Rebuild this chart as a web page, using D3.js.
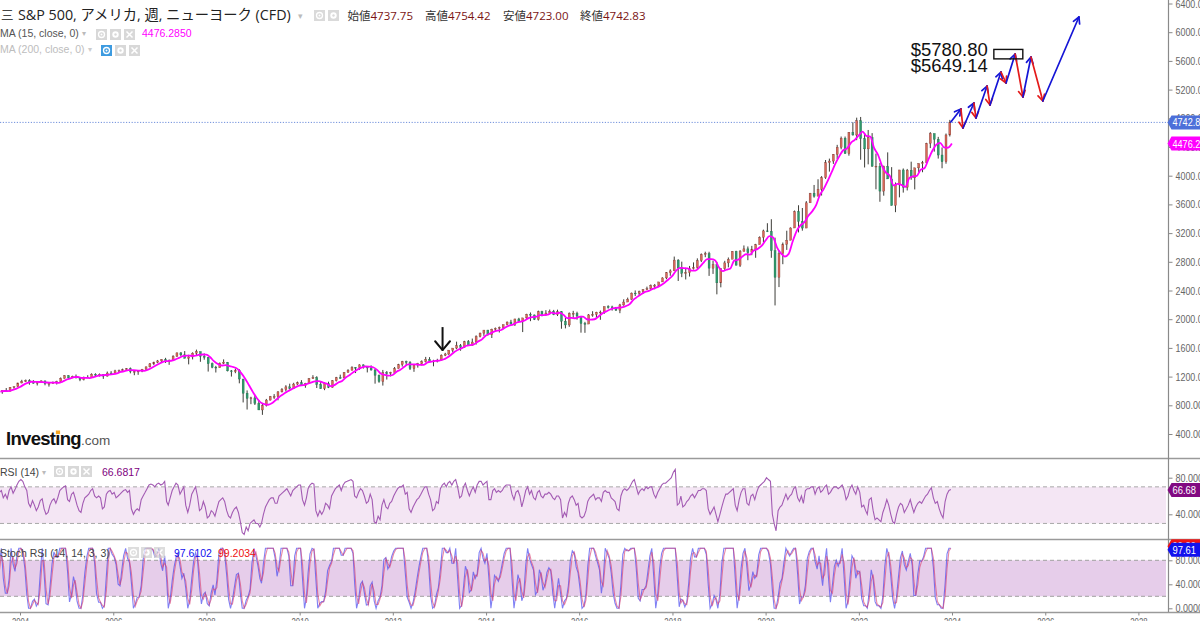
<!DOCTYPE html>
<html><head><meta charset="utf-8">
<script src="https://cdn.jsdelivr.net/npm/d3@7"></script>
<style>
html,body{margin:0;padding:0;background:#fff;overflow:hidden}
svg{display:block}
</style></head><body>
<svg id="chart" width="1200" height="621"></svg>
<script>
// ================= DATA =================
// Monthly S&P 500 candles from Jul 2003 to Dec 2023 (open = previous close)
const firstMonth = [2003, 6];
const firstOpen = 974.5;
const closes = [
 990.3,1008.0,996.0,1050.7,1058.2,1111.9,
 1131.1,1144.9,1126.2,1107.3,1120.7,1140.8,1101.7,1104.2,1114.6,1130.2,1173.8,1211.9,
 1181.3,1203.6,1180.6,1156.9,1191.5,1191.3,1234.2,1220.3,1228.8,1207.0,1249.5,1248.3,
 1280.1,1280.7,1294.9,1310.6,1270.1,1270.2,1276.7,1303.8,1335.9,1377.9,1400.6,1418.3,
 1438.2,1406.8,1420.9,1482.4,1530.6,1503.4,1455.3,1474.0,1526.8,1549.4,1481.1,1468.4,
 1378.6,1330.6,1322.7,1385.6,1400.4,1280.0,1267.4,1282.8,1166.4,968.8,896.2,903.3,
 825.9,735.1,797.9,872.8,919.1,919.3,987.5,1020.6,1057.1,1036.2,1095.6,1115.1,
 1073.9,1104.5,1169.4,1186.7,1089.4,1030.7,1101.6,1049.3,1141.2,1183.3,1180.6,1257.6,
 1286.1,1327.2,1325.8,1363.6,1345.2,1320.6,1292.3,1218.9,1131.4,1253.3,1247.0,1257.6,
 1312.4,1365.7,1408.5,1397.9,1310.3,1362.2,1379.3,1406.6,1440.7,1412.2,1416.2,1426.2,
 1498.1,1514.7,1569.2,1597.6,1630.7,1606.3,1685.7,1633.0,1681.6,1756.5,1805.8,1848.4,
 1782.6,1859.5,1872.3,1884.0,1923.6,1960.2,1930.7,2003.4,1972.3,2018.1,2067.6,2058.9,
 1995.0,2104.5,2067.9,2085.5,2107.4,2063.1,2103.8,1972.2,1920.0,2079.4,2080.4,2043.9,
 1940.2,1932.2,2059.7,2065.3,2097.0,2098.9,2173.6,2171.0,2168.3,2126.2,2199.0,2238.8,
 2278.9,2363.6,2362.7,2384.2,2411.8,2423.4,2470.3,2471.7,2519.4,2575.3,2647.6,2673.6,
 2823.8,2713.8,2640.9,2648.1,2705.3,2718.4,2816.3,2901.5,2914.0,2711.7,2760.2,2506.9,
 2704.1,2784.5,2834.4,2945.8,2752.1,2941.8,2980.4,2926.5,2976.7,3037.6,3141.0,3230.8,
 3225.5,2954.2,2584.6,2912.4,3044.3,3100.3,3271.1,3500.3,3363.0,3270.0,3621.6,3756.1,
 3714.2,3811.2,3972.9,4181.2,4204.1,4297.5,4395.3,4522.7,4307.5,4605.4,4567.0,4766.2,
 4515.6,4373.9,4530.4,4131.9,4132.2,3785.4,4130.3,3955.0,3585.6,3872.0,4080.1,3839.5,
 4076.6,3970.2,4109.3,4169.5,4179.8,4450.4,4589.0,4507.7,4288.1,4193.8,4567.8,4742.8
];
const highs = [
 1015.4,1011.0,1040.3,1053.8,1063.7,1112.6,
 1155.4,1159.0,1163.2,1150.6,1127.7,1146.3,1140.8,1109.7,1131.5,1142.1,1188.5,1217.9,
 1217.8,1212.4,1229.1,1191.9,1200.1,1219.6,1245.2,1245.9,1243.1,1233.3,1270.6,1275.8,
 1294.9,1297.6,1310.9,1318.2,1326.7,1290.7,1280.4,1306.7,1340.3,1389.5,1407.9,1431.8,
 1441.6,1461.6,1438.9,1498.0,1535.6,1540.6,1555.9,1503.9,1538.7,1576.1,1545.8,1523.6,
 1471.8,1396.0,1350.0,1397.0,1440.2,1404.1,1292.2,1313.2,1303.0,1167.0,1007.5,918.9,
 943.9,875.0,833.0,888.7,930.2,956.2,996.7,1039.5,1080.2,1101.4,1113.7,1130.4,
 1150.5,1112.4,1180.7,1219.8,1205.1,1131.2,1121.0,1129.2,1150.0,1196.1,1227.1,1262.6,
 1302.7,1344.1,1332.3,1370.6,1370.6,1345.2,1356.5,1307.4,1229.3,1292.7,1277.6,1267.1,
 1333.5,1378.0,1419.2,1422.4,1415.3,1363.5,1391.7,1426.7,1474.5,1471.0,1434.3,1448.0,
 1509.9,1530.9,1570.3,1597.6,1687.2,1654.2,1698.8,1709.7,1730.0,1775.2,1813.6,1849.4,
 1850.8,1867.9,1884.0,1897.3,1924.0,1968.2,1991.4,2005.0,2019.3,2018.2,2075.8,2093.6,
 2064.4,2119.6,2117.5,2125.9,2134.7,2129.9,2132.8,2112.7,2020.9,2094.3,2116.5,2104.3,
 2038.2,1963.0,2072.2,2111.1,2103.5,2120.6,2177.1,2193.8,2187.9,2169.6,2214.1,2277.5,
 2301.0,2371.5,2401.0,2398.2,2418.7,2453.8,2484.0,2490.9,2519.4,2583.0,2657.7,2695.0,
 2872.9,2836.0,2801.9,2717.5,2742.2,2791.5,2848.0,2916.5,2940.9,2939.9,2815.2,2800.2,
 2709.0,2813.5,2860.3,2949.5,2954.1,2964.2,3028.0,3013.6,3022.0,3050.1,3154.3,3247.9,
 3337.8,3393.5,3136.7,2954.9,3068.7,3233.1,3280.0,3514.8,3588.1,3549.9,3646.0,3760.2,
 3870.9,3950.4,3994.4,4218.8,4238.0,4302.4,4430.0,4545.9,4545.8,4608.1,4743.8,4808.9,
 4818.6,4595.3,4637.3,4593.5,4307.7,4177.5,4140.2,4325.3,4119.3,3905.4,4080.1,4101.0,
 4094.2,4195.4,4110.8,4170.1,4206.2,4458.5,4607.1,4584.4,4541.3,4393.6,4587.6,4778.0
];
const lows = [
 962.1,960.8,990.4,995.9,1031.2,1053.4,
 1105.1,1124.4,1087.2,1101.5,1076.3,1113.3,1078.8,1060.7,1101.3,1090.2,1127.6,1173.4,
 1163.8,1180.9,1176.8,1136.2,1146.2,1188.3,1183.6,1201.1,1201.1,1168.2,1201.1,1246.4,
 1245.7,1253.6,1268.4,1280.7,1245.3,1219.3,1224.5,1261.3,1290.9,1327.1,1361.0,1385.9,
 1404.0,1389.4,1364.0,1416.4,1476.7,1484.2,1454.3,1370.6,1439.3,1489.6,1406.1,1435.7,
 1270.1,1316.8,1257.0,1324.4,1373.1,1272.0,1200.4,1247.5,1106.4,839.8,741.0,815.7,
 804.3,734.5,666.8,783.3,866.1,888.9,869.3,978.5,992.3,1020.0,1029.4,1085.9,
 1071.6,1044.5,1105.2,1170.7,1040.8,1028.3,1010.9,1039.7,1047.1,1131.9,1173.0,1180.9,
 1257.6,1289.1,1249.1,1294.7,1311.8,1258.1,1282.9,1101.5,1114.2,1074.8,1158.7,1202.4,
 1258.9,1312.4,1340.0,1357.4,1292.0,1266.7,1325.4,1354.7,1396.6,1403.3,1343.4,1398.1,
 1426.2,1485.0,1501.5,1536.0,1581.3,1560.3,1604.6,1627.5,1633.4,1646.5,1746.2,1768.0,
 1770.5,1737.9,1834.4,1814.4,1859.8,1916.0,1930.7,1904.8,1964.0,1820.7,2001.0,1972.6,
 1988.1,1980.9,2039.7,2048.4,2067.9,2056.3,2044.0,1867.0,1871.9,1893.7,2019.4,1993.3,
 1812.3,1810.1,1937.1,2033.8,2025.9,1991.7,2074.0,2147.6,2119.1,2114.7,2083.8,2187.4,
 2245.1,2271.7,2322.3,2329.0,2352.7,2405.7,2407.7,2417.4,2446.6,2520.4,2557.5,2605.5,
 2682.4,2532.7,2585.9,2553.8,2594.6,2692.0,2699.0,2796.3,2864.1,2603.5,2631.1,2346.6,
 2444.0,2681.8,2722.3,2848.6,2750.5,2728.8,2952.2,2822.1,2891.9,2856.0,3050.7,3070.3,
 3214.6,2855.8,2191.9,2447.5,2766.6,2965.7,3101.2,3284.5,3209.5,3233.9,3279.7,3633.4,
 3694.1,3725.6,3723.3,3955.3,4056.9,4164.4,4233.1,4367.7,4305.9,4278.9,4560.0,4495.1,
 4222.6,4114.7,4157.9,4124.3,3810.3,3636.9,3721.6,3954.5,3584.1,3491.6,3698.2,3764.5,
 3794.3,3943.1,3808.9,4049.4,4048.3,4166.2,4385.1,4335.3,4238.6,4103.8,4167.2,4546.5
];
const maWindow = 4; // months ~ 15 weeks

// RSI(14), two readings per month from Jul 2003
const rsi14 = [
 60,64,66,58,62,57,66,70,63,67,72,76,
 78,76,70,66,52,48,55,50,44,48,55,57,46,40,42,50,55,57,52,58,66,68,70,71,
 56,54,62,64,58,50,44,42,52,58,60,62,66,68,60,58,60,58,46,48,62,65,66,62,
 64,58,60,62,64,66,67,64,66,46,40,44,46,44,56,60,64,68,72,73,72,70,73,74,
 72,73,76,54,50,58,66,70,74,72,62,66,70,50,42,50,62,66,70,60,44,46,54,48,
 36,38,44,42,38,46,54,56,58,54,44,38,36,42,46,48,42,32,20,18,26,22,30,32,
 34,30,30,26,30,40,48,52,56,58,58,52,52,60,62,64,66,68,64,60,66,68,70,72,
 72,56,50,58,68,72,74,73,44,38,44,40,44,52,50,46,60,64,68,70,72,66,72,75,
 76,77,78,76,60,58,64,68,66,60,52,54,62,56,32,30,38,34,50,56,48,46,52,54,
 60,64,68,70,70,72,62,64,46,42,48,52,56,58,62,66,70,70,62,56,44,46,54,52,
 68,72,74,70,74,76,72,76,78,70,58,60,70,74,66,60,66,70,64,72,76,76,72,74,
 76,56,56,66,68,64,66,64,66,70,72,72,72,62,56,64,66,60,48,56,66,70,62,66,
 58,56,64,66,60,58,62,62,64,62,58,56,60,60,56,36,42,38,52,58,60,56,50,52,
 38,36,38,44,54,58,60,62,56,58,58,54,64,66,64,64,58,56,54,46,44,60,66,68,
 66,68,72,76,78,70,62,66,68,66,70,68,70,70,62,58,64,68,72,74,74,76,78,80,
 86,89,50,52,60,48,50,54,56,60,62,58,62,66,66,68,68,66,46,40,44,48,40,32,
 40,48,56,62,62,64,66,68,50,44,56,64,68,68,52,50,60,62,56,64,70,72,74,76,
 80,78,76,40,30,22,44,48,50,56,62,56,60,62,68,70,58,54,60,52,66,68,68,70,
 70,62,68,70,64,66,70,72,62,64,68,70,70,68,70,72,66,56,60,68,72,66,62,70,
 64,48,50,44,40,56,58,44,34,36,34,32,42,48,56,50,40,32,30,40,48,52,50,42,
 46,50,56,48,42,48,52,54,52,56,60,62,66,69,58,52,54,46,40,36,54,62,66,67
];
const stochLookback = 7, stochKSmooth = 2, stochDSmooth = 2; // 14/3/3 weeks in half-month steps

const priceTicks = [400,800,1200,1600,2000,2400,2800,3200,3600,4000,4400,4800,5200,5600,6000,6400];
const rsiTicks = [40,80];
const stochTicks = [0,40,80];
const yearTicks = [2004,2006,2008,2010,2012,2014,2016,2018,2020,2022,2024,2026,2028];
const rsiBand = [30,70];
const stochBand = [20,80];

const titleText = "S&P 500, アメリカ, 週, ニューヨーク (CFD)";
const ohlcLabels = ["始値","高値","安値","終値"];
const ohlcValues = ["4737.75","4754.42","4723.00","4742.83"];
const lastClose = 4742.83;
const maLast = 4476.2850;
const rsiLast = 66.6817;
const kLast = 97.6102, dLast = 99.2034;

// hand-drawn annotations (date, price)
const targetPrices = [5780.80, 5649.14];
const targetBoxDates = ["2024-11-24","2025-07-09"];
const forecastPath = [
 ["2023-12-23",4748],["2024-03-11",4930],["2024-03-27",4665],["2024-06-21",5013],
 ["2024-07-07",4804],["2024-10-02",5250],["2024-10-25",4985],["2025-01-19",5445],
 ["2025-02-28",5292],["2025-05-10",5696],["2025-07-10",5097],["2025-09-11",5654],
 ["2025-12-13",5041],["2026-09-22",6212]
];
const markerArrow = {date:"2013-01-25", from:1890, to:1570};

// ================= CHART =================
const svg = d3.select("#chart");
const W = 1200, axisX = 1168.5;
const UI = "'Open Sans','Noto Sans CJK JP',sans-serif";
const AX = "'Liberation Sans',Arial,sans-serif";
const parse = d3.timeParse("%Y-%m-%d");
const narrow = 4.6; // px per character of the condensed axis font

const x = d3.scaleTime().domain([new Date(2004,0,1), new Date(2028,0,1)]).range([20, 1138.4]);
const yP = d3.scaleLinear().domain([400,6400]).range([434,3.5]);
const yR = d3.scaleLinear().domain([40,80]).range([514.3,477.7]);
const yS = d3.scaleLinear().domain([0,80]).range([608.3,560.3]);

const defs = svg.append("defs");
function clip(id, y0, h){ defs.append("clipPath").attr("id",id).append("rect").attr("x",0).attr("y",y0).attr("width",axisX).attr("height",h); }
clip("cMain",0,457); clip("cRsi",459.5,79); clip("cSto",540.5,71.5);

// ---------- main panel ----------
const months = closes.map((c,i)=>({
  date:new Date(firstMonth[0], firstMonth[1]+i, 15),
  end:new Date(firstMonth[0], firstMonth[1]+i+1, 0),
  o: i ? closes[i-1] : firstOpen, h: highs[i], l: lows[i], c
}));
months.forEach((d,i)=>{ d.ma = d3.mean(closes.slice(Math.max(0,i-maWindow+1), i+1)); });

const main = svg.append("g").attr("clip-path","url(#cMain)");
main.append("line").attr("x1",0).attr("x2",axisX).attr("y1",yP(lastClose)).attr("y2",yP(lastClose))
  .attr("stroke","#6f8fdc").attr("stroke-width",1).attr("stroke-dasharray","1.2,1.6");

const step = x(new Date(2004,1,15)) - x(new Date(2004,0,15));
const bw = step*0.5;
const cg = main.append("g");
cg.selectAll("line.w").data(months).join("line").attr("class","w")
  .attr("x1",d=>x(d.date)).attr("x2",d=>x(d.date))
  .attr("y1",d=>yP(d.h)).attr("y2",d=>yP(d.l))
  .attr("stroke","#3d3d38").attr("stroke-width",1);
cg.selectAll("rect.b").data(months).join("rect").attr("class","b")
  .attr("x",d=>x(d.date)-bw/2).attr("width",bw)
  .attr("y",d=>yP(Math.max(d.o,d.c)))
  .attr("height",d=>Math.max(0.8, Math.abs(yP(d.o)-yP(d.c))))
  .attr("fill",d=>d.c>=d.o ? "#d9685a" : "#2f9a6c")
  .attr("stroke",d=>d.c>=d.o ? "#7a3a30" : "#1f6b4a").attr("stroke-width",0.35);

main.append("path").datum(months)
  .attr("d", d3.line().x(d=>x(d.end)).y(d=>yP(d.ma)).curve(d3.curveMonotoneX))
  .attr("fill","none").attr("stroke","#ff00ff").attr("stroke-width",1.8);

// ---------- annotations ----------
const ann = svg.append("g");
function arrowHead(g, x1,y1,x2,y2,color,len,ang,w){
  const a = Math.atan2(y2-y1, x2-x1);
  [ang,-ang].forEach(s=>{
    g.append("line").attr("x1",x2).attr("y1",y2)
      .attr("x2",x2-len*Math.cos(a+s)).attr("y2",y2-len*Math.sin(a+s))
      .attr("stroke",color).attr("stroke-width",w).attr("stroke-linecap","round");
  });
}
const fp = forecastPath.map(d=>({x:x(parse(d[0])), y:yP(d[1]), v:d[1]}));
for(let i=0;i<fp.length-1;i++){
  const p0=fp[i], p1=fp[i+1];
  const col = p1.v>p0.v ? "#1515d6" : "#e41a1a";
  ann.append("line").attr("x1",p0.x).attr("y1",p0.y).attr("x2",p1.x).attr("y2",p1.y)
    .attr("stroke",col).attr("stroke-width",1.7).attr("stroke-linecap","round");
  arrowHead(ann,p0.x,p0.y,p1.x,p1.y,col,7,0.5,1.7);
}
const bx0 = x(parse(targetBoxDates[0])), bx1 = x(parse(targetBoxDates[1]));
ann.append("rect").attr("x",bx0).attr("y",yP(targetPrices[0])+1.5)
  .attr("width",bx1-bx0).attr("height",yP(targetPrices[1])-yP(targetPrices[0]))
  .attr("fill","none").attr("stroke","#111").attr("stroke-width",1.4);
ann.append("text").attr("x",bx0-6).attr("y",yP(targetPrices[0])+8).attr("text-anchor","end")
  .attr("font-family",AX).attr("font-size",18.5).attr("fill","#111").text("$"+targetPrices[0].toFixed(2));
ann.append("text").attr("x",bx0-6).attr("y",yP(targetPrices[1])+14.5).attr("text-anchor","end")
  .attr("font-family",AX).attr("font-size",18.5).attr("fill","#111").text("$"+targetPrices[1].toFixed(2));
{
  const mx = x(parse(markerArrow.date)), my0 = yP(markerArrow.from), my1 = yP(markerArrow.to);
  ann.append("line").attr("x1",mx).attr("x2",mx).attr("y1",my0).attr("y2",my1)
    .attr("stroke","#111").attr("stroke-width",2);
  arrowHead(ann,mx,my0,mx,my1,"#111",11.5,0.7,2);
}

// ---------- RSI panel ----------
const halfDate = i => new Date(firstMonth[0], firstMonth[1]+Math.floor(i/2), i%2 ? 23 : 8);
const rsiG = svg.append("g").attr("clip-path","url(#cRsi)");
rsiG.append("rect").attr("x",0).attr("width",1166).attr("y",yR(rsiBand[1])).attr("height",yR(rsiBand[0])-yR(rsiBand[1]))
  .attr("fill","#f4e6f4");
rsiBand.forEach(v=>rsiG.append("line").attr("x1",0).attr("x2",1166).attr("y1",yR(v)).attr("y2",yR(v))
  .attr("stroke","#a8a8a8").attr("stroke-width",1).attr("stroke-dasharray","4,3"));
rsiG.append("path").datum(rsi14)
  .attr("d", d3.line().x((d,i)=>x(halfDate(i))).y(d=>yR(d)))
  .attr("fill","none").attr("stroke","#a35bb3").attr("stroke-width",1.1);

// ---------- Stoch RSI panel ----------
const rawStoch = rsi14.map((v,i)=>{
  const w = rsi14.slice(Math.max(0,i-stochLookback+1), i+1);
  const mn = d3.min(w), mx = d3.max(w);
  return mx===mn ? 50 : (v-mn)/(mx-mn)*100;
});
const sma = (a,n)=>a.map((v,i)=>d3.mean(a.slice(Math.max(0,i-n+1), i+1)));
const kLine = sma(rawStoch, stochKSmooth);
const dLine = sma(kLine, stochDSmooth);
const stG = svg.append("g").attr("clip-path","url(#cSto)");
stG.append("rect").attr("x",0).attr("width",1166).attr("y",yS(stochBand[1])).attr("height",yS(stochBand[0])-yS(stochBand[1]))
  .attr("fill","#e6cdea");
stochBand.forEach(v=>stG.append("line").attr("x1",0).attr("x2",1166).attr("y1",yS(v)).attr("y2",yS(v))
  .attr("stroke","#a0a0a0").attr("stroke-width",1).attr("stroke-dasharray","4,3"));
const sLine = d3.line().x((d,i)=>x(halfDate(i))).y(d=>yS(d));
stG.append("path").datum(kLine).attr("d",sLine).attr("fill","none").attr("stroke","#4a4af0").attr("stroke-width",1.1).attr("opacity",0.7);
stG.append("path").datum(dLine).attr("d",sLine).attr("fill","none").attr("stroke","#d8386a").attr("stroke-width",1.1).attr("opacity",0.6);

// ---------- separators & axes ----------
[458.5, 539.5, 612.5].forEach(y=>svg.append("line").attr("x1",0).attr("x2",W).attr("y1",y).attr("y2",y)
  .attr("stroke","#9a9a9a").attr("stroke-width",1.6));
svg.append("line").attr("x1",axisX).attr("x2",axisX).attr("y1",0).attr("y2",612).attr("stroke","#8a8a8a").attr("stroke-width",1.2);

function styleAxis(g, perChar){
  g.select(".domain").remove();
  g.selectAll(".tick line").attr("stroke","#888");
  g.selectAll(".tick text").attr("fill","#666").attr("font-family",AX).attr("font-size",11)
    .attr("textLength",function(){ return this.textContent.length*(perChar||narrow); })
    .attr("lengthAdjust","spacingAndGlyphs");
}
svg.append("g").attr("transform",`translate(${axisX},0)`)
  .call(d3.axisRight(yP).tickValues(priceTicks).tickFormat(d3.format(".2f")).tickSize(4).tickPadding(3)).call(styleAxis);
svg.append("g").attr("transform",`translate(${axisX},0)`)
  .call(d3.axisRight(yR).tickValues(rsiTicks).tickFormat(d3.format(".3f")).tickSize(4).tickPadding(3)).call(styleAxis);
svg.append("g").attr("transform",`translate(${axisX},0)`)
  .call(d3.axisRight(yS).tickValues(stochTicks).tickFormat(d3.format(".4f")).tickSize(4).tickPadding(3)).call(styleAxis);
svg.append("g").attr("transform","translate(0,612.5)")
  .call(d3.axisBottom(x).tickValues(yearTicks.map(y=>new Date(y,0,1))).tickFormat(d3.timeFormat("%Y")).tickSize(3).tickPadding(3))
  .call(g=>styleAxis(g,4.3));

// ---------- value boxes on the axis ----------
function valBox(y, t, color){
  const g = svg.append("g");
  g.append("path").attr("d",`M${axisX-1},${y} L${axisX+3},${y-7} L${W},${y-7} L${W},${y+7} L${axisX+3},${y+7} Z`).attr("fill",color);
  g.append("text").attr("x",axisX+4).attr("y",y+4).attr("fill","#fff").attr("font-family",AX).attr("font-size",11.5)
    .attr("textLength",t.length*4.7).attr("lengthAdjust","spacingAndGlyphs").text(t);
}
valBox(yP(lastClose), lastClose.toFixed(2), "#4c6fd9");
valBox(yP(maLast)+2, maLast.toFixed(2), "#ff00ff");
valBox(yR(rsiLast), rsiLast.toFixed(2), "#820a82");
valBox(yS(dLast)-2.5, dLast.toFixed(2), "#f01414");
valBox(yS(kLast), kLast.toFixed(2), "#1212ee");

// ---------- legends / header ----------
function icon(x0,y0,kind,fill,op){
  const g = svg.append("g").attr("opacity",op||1);
  g.append("rect").attr("x",x0).attr("y",y0).attr("width",11).attr("height",11).attr("fill",fill);
  const cx=x0+5.5, cy=y0+5.5;
  if(kind==="eye"){ g.append("circle").attr("cx",cx).attr("cy",cy).attr("r",3).attr("fill","none").attr("stroke","#fff").attr("stroke-width",1.3);
    g.append("circle").attr("cx",cx).attr("cy",cy).attr("r",1).attr("fill","#fff"); }
  if(kind==="gear"){ g.append("circle").attr("cx",cx).attr("cy",cy).attr("r",3.2).attr("fill","#fff");
    g.append("circle").attr("cx",cx).attr("cy",cy).attr("r",1.2).attr("fill",fill); }
  if(kind==="x"){ g.append("path").attr("d",`M${cx-3},${cy-3}L${cx+3},${cy+3}M${cx+3},${cy-3}L${cx-3},${cy+3}`).attr("stroke","#fff").attr("stroke-width",1.5); }
}
function txt(x0,y0,s,size,fill,fam,anchor){
  return svg.append("text").attr("x",x0).attr("y",y0).attr("font-family",fam||UI).attr("font-size",size).attr("fill",fill).attr("text-anchor",anchor||"start").text(s);
}
txt(1,19.5,"三",12.5,"#444","'Noto Sans CJK JP',sans-serif");
txt(18,20,titleText,14.3,"#222");
txt(298,19,"▾",9,"#bbb",AX);
icon(314,10,"eye","#dadada"); icon(328,10,"gear","#dadada");
const ohlcX = [347.5,425,503,580];
ohlcLabels.forEach((l,i)=>{
  const t = svg.append("text").attr("x",ohlcX[i]).attr("y",20).attr("font-family",UI).attr("font-size",11.5);
  t.append("tspan").attr("fill","#333").text(l);
  t.append("tspan").attr("fill","#7a1414").text(ohlcValues[i]);
});
txt(0,37,"MA (15, close, 0)",10.5,"#555",AX);
txt(82,36,"▾",8,"#bbb",AX);
icon(96,29,"eye","#d8d8d8"); icon(110,29,"gear","#d8d8d8"); icon(124,29,"x","#d8d8d8");
txt(142,37,maLast.toFixed(4),10.5,"#ff00ff",AX);
txt(0,53,"MA (200, close, 0)",10.5,"#bdbdbd",AX);
txt(88,52,"▾",8,"#ccc",AX);
icon(101,45,"eye","#3d9be0"); icon(115,45,"gear","#d8d8d8"); icon(129,45,"x","#d8d8d8");

txt(0,476,"RSI (14)",10.5,"#444",AX);
txt(42,475,"▾",8,"#bbb",AX);
icon(54,466,"eye","#d8d8d8"); icon(68,466,"gear","#d8d8d8"); icon(81,466,"x","#d8d8d8");
txt(102,476,rsiLast.toFixed(4),10.5,"#800080",AX);

txt(0,557,"Stoch RSI (14, 14, 3, 3)",10.5,"#444",AX);
icon(128,547,"eye","#cfcfcf",0.7); icon(141,547,"gear","#cfcfcf",0.7); icon(154,547,"x","#cfcfcf",0.7);
txt(174,557,kLast.toFixed(4),10.5,"#1010ee",AX);
txt(218,557,dLast.toFixed(4),10.5,"#ee1010",AX);

// Investing.com logo
const logoFont = "'Liberation Sans',Arial,sans-serif";
const logo = svg.append("text").attr("x",6).attr("y",445).attr("font-family",logoFont);
logo.append("tspan").attr("font-size",18.5).attr("font-weight",700).attr("fill","#111").attr("letter-spacing",-0.7).text("Investing");
logo.append("tspan").attr("font-size",13.5).attr("fill","#555").text(".com");
{
  const probe = svg.append("text").attr("font-family",logoFont).attr("font-size",18.5).attr("font-weight",700)
    .attr("letter-spacing",-0.7).attr("visibility","hidden").text("Invest");
  const w = probe.node().getComputedTextLength(); probe.remove();
  svg.append("rect").attr("x",6+w+0.6).attr("y",430.5).attr("width",4.2).attr("height",3.6).attr("fill","#f5a623");
}
</script>
</body></html>
